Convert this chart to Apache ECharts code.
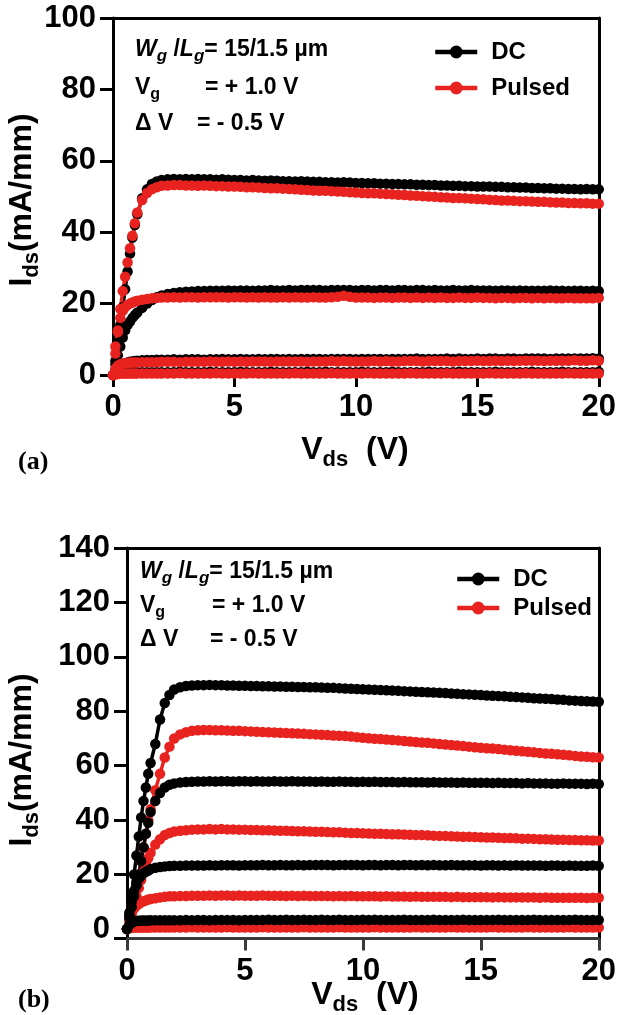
<!DOCTYPE html>
<html><head><meta charset="utf-8">
<script src="https://cdn.jsdelivr.net/npm/echarts@6/dist/echarts.min.js"></script>
<style>html,body{margin:0;padding:0;background:#fff}#c{width:619px;height:1015px}</style>
</head><body><div id="c"></div>
<script>
// ---------- data ----------
const VDS = [0,0.1,0.2,0.3,0.4,0.5,0.6,0.7,0.8,0.9,1,1.2,1.4,1.6,1.8,2,
2.25,2.5,2.75,3, 3.25,3.5,3.75,4, 4.25,4.5,4.75,5, 5.25,5.5,5.75,6,
6.25,6.5,6.75,7, 7.25,7.5,7.75,8, 8.25,8.5,8.75,9, 9.25,9.5,9.75,10,
10.25,10.5,10.75,11, 11.25,11.5,11.75,12, 12.25,12.5,12.75,13, 13.25,13.5,13.75,14,
14.25,14.5,14.75,15, 15.25,15.5,15.75,16, 16.25,16.5,16.75,17, 17.25,17.5,17.75,18,
18.25,18.5,18.75,19, 19.25,19.5,19.75,20];

const X_TICKS = [0,5,10,15,20];
const Y_TICKS_A = [0,20,40,60,80,100];
const Y_TICKS_B = [0,20,40,60,80,100,120,140];

// panel (a)
const a_dc1 = [0,4,9,14,19,24,29,34,38.5,42,45,49.5,52,53.5,54.2,54.6,
54.8,54.9,54.8,54.9, 54.8,54.9,54.8,54.8, 54.7,54.8,54.7,54.6, 54.6,54.5,54.6,54.5,
54.4,54.5,54.4,54.3, 54.3,54.2,54.3,54.2, 54.1,54.1,54.0,54.0, 53.9,54.0,53.9,53.8,
53.8,53.7,53.7,53.6, 53.6,53.5,53.5,53.4, 53.4,53.3,53.3,53.2, 53.2,53.1,53.1,53.0,
53.0,52.9,52.9,52.8, 52.8,52.8,52.7,52.7, 52.6,52.6,52.5,52.5, 52.4,52.4,52.3,52.3,
52.2,52.2,52.1,52.1, 52.0,52.1,52.0,52.0];
const a_pu1 = [0,6,12,18.5,23.5,27.5,31.5,35.5,39,42.5,45.5,49,51,52,52.6,53,
53.1,53.2,53.2,53.1, 53.1,53.0,53.1,53.0, 52.9,52.9,52.8,52.8, 52.7,52.6,52.6,52.5,
52.4,52.3,52.3,52.2, 52.1,52.0,51.9,51.8, 51.7,51.6,51.6,51.5, 51.4,51.3,51.2,51.1,
51.0,50.9,50.9,50.8, 50.7,50.6,50.5,50.4, 50.3,50.2,50.1,50.0, 49.9,49.8,49.7,49.6,
49.6,49.5,49.4,49.3, 49.2,49.1,49.0,48.9, 48.9,48.8,48.7,48.7, 48.6,48.5,48.5,48.4,
48.3,48.3,48.2,48.2, 48.1,48.1,48.0,48.0];
const a_dc2 = [0,3,5.5,8,10.5,12.5,14,15,16,16.8,17.5,18.8,20,21,21.8,22.3,
22.7,23.0,23.2,23.3, 23.4,23.5,23.5,23.6, 23.6,23.6,23.7,23.6, 23.7,23.7,23.6,23.7,
23.7,23.8,23.7,23.7, 23.8,23.7,23.8,23.8, 23.8,23.8,23.7,23.8, 23.8,23.8,23.8,23.7,
23.8,23.8,23.7,23.8, 23.8,23.7,23.8,23.8, 23.7,23.8,23.8,23.7, 23.8,23.7,23.7,23.8,
23.7,23.7,23.8,23.7, 23.7,23.7,23.6,23.7, 23.7,23.6,23.7,23.6, 23.6,23.6,23.6,23.7,
23.6,23.6,23.5,23.6, 23.6,23.5,23.6,23.5];
const a_pu2 = [0,8,12.5,16,18,19,19.6,20,20.3,20.6,20.8,21.1,21.3,21.5,21.6,21.7,
21.7,21.8,21.7,21.8, 21.8,21.7,21.8,21.8, 21.8,21.8,21.7,21.8, 21.8,21.7,21.8,21.7,
21.8,21.7,21.7,21.8, 21.7,21.8,21.7,21.7, 21.8,21.7,21.7,21.8, 21.9,22.2,21.9,21.7,
21.7,21.7,21.6,21.7, 21.7,21.6,21.7,21.7, 21.6,21.7,21.6,21.7, 21.6,21.7,21.6,21.6,
21.7,21.6,21.6,21.7, 21.6,21.6,21.5,21.6, 21.6,21.5,21.6,21.6, 21.5,21.6,21.5,21.6,
21.5,21.5,21.6,21.5, 21.5,21.5,21.5,21.6];
const a_dc3 = [0,1.2,2,2.6,3,3.3,3.5,3.7,3.8,3.9,4,4.1,4.2,4.2,4.3,4.3,
4.3,4.4,4.3,4.4, 4.4,4.4,4.3,4.4, 4.4,4.5,4.4,4.4, 4.5,4.4,4.4,4.5,
4.4,4.5,4.5,4.4, 4.5,4.4,4.5,4.5, 4.5,4.5,4.4,4.5, 4.5,4.5,4.5,4.4,
4.5,4.5,4.5,4.5, 4.4,4.5,4.5,4.5, 4.5,4.6,4.5,4.5, 4.5,4.5,4.6,4.5,
4.6,4.5,4.5,4.6, 4.5,4.6,4.6,4.5, 4.6,4.6,4.5,4.6, 4.6,4.6,4.6,4.5,
4.6,4.6,4.6,4.6, 4.6,4.6,4.7,4.6];
const a_pu3 = [0,1.8,2.6,3,3.2,3.3,3.4,3.4,3.5,3.5,3.5,3.6,3.6,3.6,3.6,3.7,
3.7,3.7,3.6,3.7, 3.7,3.7,3.7,3.8, 3.7,3.7,3.8,3.7, 3.8,3.7,3.8,3.8,
3.8,3.7,3.8,3.8, 3.8,3.8,3.8,3.7, 3.8,3.8,3.8,3.9, 3.8,3.9,3.8,3.8,
3.8,3.8,3.9,3.8, 3.9,3.8,3.8,3.9, 3.9,3.9,3.8,3.9, 3.9,3.9,3.9,3.8,
3.9,3.9,3.9,4.0, 3.9,3.9,4.0,3.9, 4.0,3.9,4.0,4.0, 4.0,4.0,3.9,4.0,
4.0,4.0,4.0,4.1, 4.0,4.0,4.1,4.0];
const a_dc4 = [0,0.4,0.6,0.7,0.7,0.8,0.8,0.8,0.8,0.8,0.8,0.8,0.8,0.8,0.8,0.8,
0.8,0.8,0.9,0.8, 0.8,0.8,0.8,0.9, 0.8,0.8,0.8,0.8, 0.9,0.8,0.8,0.8,
0.8,0.9,0.8,0.8, 0.8,0.8,0.8,0.9, 0.8,0.8,0.9,0.8, 0.8,0.8,0.8,0.8,
0.9,0.8,0.8,0.8, 0.8,0.9,0.8,0.8, 0.8,0.8,0.8,0.9, 0.8,0.8,0.8,0.8,
0.9,0.8,0.8,0.8, 0.8,0.8,0.9,0.8, 0.8,0.8,0.8,0.8, 0.9,0.8,0.8,0.8,
0.8,0.9,0.8,0.8, 0.8,0.8,0.8,0.9];
const a_pu4 = [0,0.2,0.3,0.4,0.4,0.4,0.4,0.4,0.4,0.4,0.4,0.4,0.4,0.4,0.4,0.4,
0.4,0.4,0.5,0.4, 0.4,0.4,0.4,0.4, 0.5,0.4,0.4,0.4, 0.4,0.4,0.5,0.4,
0.4,0.4,0.4,0.4, 0.4,0.5,0.4,0.4, 0.4,0.4,0.4,0.5, 0.4,0.4,0.4,0.4,
0.4,0.5,0.4,0.4, 0.4,0.4,0.4,0.4, 0.5,0.4,0.4,0.4, 0.4,0.4,0.5,0.4,
0.4,0.4,0.4,0.4, 0.4,0.5,0.4,0.4, 0.4,0.4,0.4,0.5, 0.4,0.4,0.4,0.4,
0.4,0.4,0.5,0.4, 0.4,0.4,0.4,0.4];

// panel (b)
const b_dc1 = [0,6,13,20,27,34,41,47,52,57,61,68,77,83,86,88,
88.8,89.3,89.5,89.6, 89.6,89.7,89.6,89.6, 89.5,89.5,89.4,89.4, 89.3,89.3,89.2,89.2,
89.1,89.1,89.0,89.0, 88.9,88.9,88.8,88.8, 88.7,88.6,88.6,88.5, 88.4,88.3,88.2,88.1,
88.0,87.9,87.8,87.7, 87.6,87.5,87.4,87.3, 87.2,87.1,87.0,86.9, 86.8,86.7,86.5,86.4,
86.3,86.2,86.1,86.0, 85.8,85.7,85.6,85.5, 85.3,85.2,85.1,85.0, 84.8,84.7,84.6,84.5,
84.3,84.2,84.0,83.9, 83.8,83.7,83.6,83.5];
const b_pu1 = [0,4,8,12,16,20,25,30,35,40,44,51,57,63,67,70,
71.5,72.3,72.8,73.0, 73.1,73.1,73.0,73.0, 72.9,72.8,72.8,72.7, 72.6,72.5,72.4,72.3,
72.2,72.1,72.0,71.9, 71.8,71.7,71.6,71.5, 71.4,71.3,71.1,71.0, 70.9,70.7,70.5,70.3,
70.1,69.9,69.8,69.6, 69.4,69.3,69.1,68.9, 68.7,68.5,68.4,68.2, 68.0,67.8,67.6,67.4,
67.2,67.0,66.8,66.6, 66.4,66.3,66.1,65.9, 65.7,65.5,65.3,65.1, 64.9,64.7,64.5,64.4,
64.2,64.0,63.8,63.6, 63.4,63.3,63.1,63.0];
const b_dc2 = [0,4,8,12,16,20,25,30,35,39,43,47,50,52,53,53.5,
53.8,54.0,54.1,54.2, 54.2,54.3,54.2,54.3, 54.3,54.2,54.3,54.3, 54.2,54.3,54.2,54.2,
54.3,54.2,54.2,54.3, 54.2,54.2,54.2,54.1, 54.2,54.1,54.1,54.2, 54.1,54.1,54.0,54.1,
54.0,54.1,54.0,54.0, 54.0,53.9,54.0,53.9, 53.9,53.9,53.8,53.9, 53.8,53.8,53.8,53.7,
53.8,53.7,53.7,53.7, 53.7,53.6,53.7,53.6, 53.6,53.6,53.5,53.6, 53.5,53.5,53.5,53.4,
53.4,53.5,53.4,53.4, 53.4,53.3,53.4,53.3];
const b_pu2 = [0,3,6,9,12,15,18,21,24,26,28,31,33,34.5,35.3,35.8,
36.1,36.3,36.5,36.6, 36.6,36.7,36.6,36.7, 36.6,36.6,36.5,36.5, 36.4,36.4,36.3,36.3,
36.2,36.1,36.1,36.0, 35.9,35.9,35.8,35.7, 35.7,35.6,35.5,35.5, 35.4,35.3,35.3,35.2,
35.1,35.0,35.0,34.9, 34.8,34.8,34.7,34.6, 34.5,34.5,34.4,34.3, 34.2,34.2,34.1,34.0,
33.9,33.9,33.8,33.7, 33.6,33.6,33.5,33.4, 33.4,33.3,33.2,33.2, 33.1,33.0,33.0,32.9,
32.8,32.8,32.7,32.7, 32.6,32.6,32.5,32.5];
const b_dc3 = [0,5,10,14,17,18.5,19.5,20.5,21,21.5,22,22.5,22.8,23,23.1,23.2,
23.2,23.3,23.3,23.3, 23.3,23.4,23.3,23.4, 23.4,23.4,23.3,23.4, 23.4,23.4,23.5,23.4,
23.4,23.5,23.4,23.4, 23.5,23.4,23.5,23.5, 23.5,23.5,23.4,23.5, 23.5,23.5,23.5,23.4,
23.5,23.5,23.4,23.5, 23.5,23.4,23.5,23.5, 23.4,23.5,23.4,23.5, 23.4,23.4,23.5,23.4,
23.4,23.4,23.4,23.3, 23.4,23.4,23.3,23.4, 23.3,23.4,23.3,23.3, 23.3,23.3,23.2,23.3,
23.3,23.2,23.3,23.2, 23.2,23.2,23.3,23.2];
const b_pu3 = [0,4,6,7.5,8.5,9.2,9.8,10.2,10.5,10.8,11,11.3,11.6,11.8,12,12,
12.1,12.1,12.2,12.2, 12.2,12.3,12.2,12.3, 12.3,12.2,12.3,12.2, 12.2,12.2,12.3,12.2,
12.2,12.2,12.1,12.2, 12.1,12.2,12.1,12.1, 12.1,12.1,12.0,12.1, 12.0,12.1,12.0,12.0,
12.0,12.0,11.9,12.0, 11.9,11.9,11.9,11.8, 11.9,11.8,11.8,11.8, 11.8,11.8,11.7,11.8,
11.7,11.7,11.7,11.7, 11.7,11.6,11.7,11.6, 11.6,11.6,11.6,11.6, 11.6,11.5,11.6,11.5,
11.5,11.5,11.5,11.5, 11.5,11.4,11.5,11.5];
const b_dc4 = [0,1.5,2.3,2.7,3,3,3.1,3.1,3.1,3.1,3.2,3.2,3.2,3.2,3.2,3.2,
3.2,3.3,3.2,3.3, 3.3,3.2,3.3,3.3, 3.3,3.3,3.2,3.3, 3.3,3.3,3.3,3.4,
3.3,3.3,3.4,3.3, 3.3,3.4,3.3,3.3, 3.4,3.3,3.3,3.4, 3.3,3.3,3.3,3.4,
3.3,3.4,3.3,3.3, 3.3,3.3,3.4,3.3, 3.3,3.3,3.3,3.4, 3.3,3.3,3.3,3.3,
3.4,3.3,3.3,3.3, 3.3,3.3,3.4,3.3, 3.3,3.3,3.3,3.3, 3.4,3.3,3.3,3.3,
3.3,3.3,3.3,3.4, 3.3,3.3,3.3,3.3];
const b_pu4 = [0,0.3,0.4,0.5,0.5,0.5,0.5,0.5,0.5,0.5,0.5,0.5,0.5,0.5,0.5,0.5,
0.5,0.5,0.6,0.5, 0.5,0.5,0.5,0.5, 0.6,0.5,0.5,0.5, 0.5,0.5,0.6,0.5,
0.5,0.5,0.5,0.5, 0.5,0.6,0.5,0.5, 0.5,0.5,0.5,0.6, 0.5,0.5,0.5,0.5,
0.5,0.6,0.5,0.5, 0.5,0.5,0.5,0.5, 0.6,0.5,0.5,0.5, 0.5,0.5,0.6,0.5,
0.5,0.5,0.5,0.5, 0.5,0.6,0.5,0.5, 0.5,0.5,0.5,0.6, 0.5,0.5,0.5,0.5,
0.5,0.5,0.6,0.5, 0.5,0.5,0.5,0.5];

// ---------- style ----------
const FONT = '"Liberation Sans", Arial, Helvetica, sans-serif';
const BLACK = '#000000';
const RED = '#e8231f';
const AX_W = 3;

function mk(name, ys, color, gi) {
  return {
    type: 'line', name: name, xAxisIndex: gi * 2, yAxisIndex: gi * 2,
    data: VDS.map((x, i) => [x, ys[i]]),
    symbol: 'circle', symbolSize: 10.5, showSymbol: true,
    lineStyle: { width: 3.5, color: color }, itemStyle: { color: color },
    silent: true, animation: false, z: 3
  };
}

function bottomX(gi, color) {
  return {
    type: 'value', gridIndex: gi, min: 0, max: 20, interval: 5, position: 'bottom',
    axisLine: { show: true, onZero: false, lineStyle: { color: color, width: AX_W } },
    axisTick: { show: true, length: 12, lineStyle: { color: color, width: AX_W } },
    axisLabel: { fontSize: 31, fontWeight: 'bold', fontFamily: FONT, color: '#000', margin: 17 },
    splitLine: { show: false }
  };
}
function topX(gi) {
  return {
    type: 'value', gridIndex: gi, min: 0, max: 20, position: 'top',
    axisLine: { show: true, onZero: false, lineStyle: { color: '#000', width: AX_W } },
    axisTick: { show: false }, axisLabel: { show: false }, splitLine: { show: false }
  };
}
function rightY(gi, min, max) {
  return {
    type: 'value', gridIndex: gi, min: min, max: max, position: 'right',
    axisLine: { show: true, onZero: false, lineStyle: { color: '#000', width: AX_W } },
    axisTick: { show: false }, axisLabel: { show: false }, splitLine: { show: false }
  };
}

const tickLabel = { fontSize: 31, fontWeight: 'bold', fontFamily: FONT, color: '#000', margin: 17 };

const richAxis = {
  m: { fontSize: 32, fontWeight: 'bold', fontFamily: FONT, fill: '#000', lineHeight: 42, verticalAlign: 'middle' },
  s: { fontSize: 22, fontWeight: 'bold', fontFamily: FONT, fill: '#000', lineHeight: 22, verticalAlign: 'bottom' }
};
const richNote = {
  wi: { fontSize: 23, fontWeight: 'bold', fontStyle: 'italic', fontFamily: FONT, fill: '#000', lineHeight: 30, verticalAlign: 'middle' },
  gi: { fontSize: 17, fontWeight: 'bold', fontStyle: 'italic', fontFamily: FONT, fill: '#000', lineHeight: 17, verticalAlign: 'bottom' },
  n: { fontSize: 23, fontWeight: 'bold', fontFamily: FONT, fill: '#000', lineHeight: 30, verticalAlign: 'middle' },
  gs: { fontSize: 16, fontWeight: 'bold', fontFamily: FONT, fill: '#000', lineHeight: 16, verticalAlign: 'bottom' }
};

function txt(x, y, text, rich, extra) {
  return Object.assign({
    type: 'text', x: x, y: y, silent: true,
    style: { text: text, rich: rich, align: 'left', verticalAlign: 'middle' }
  }, extra || {});
}

function notes(x0, y1, y2, y3, xe2, xe3) {
  return [
    txt(x0, y1, '{wi|W}{gi|g}{n| /}{wi|L}{gi|g}{n|= 15/1.5 µm}', richNote),
    txt(x0, y2, '{n|V}{gs|g}', richNote),
    txt(xe2, y2, '{n|= + 1.0 V}', richNote),
    txt(x0, y3, '{n|Δ V}', richNote),
    txt(xe3, y3, '{n|= - 0.5 V}', richNote)
  ];
}

function legendAt(left, top, gap) {
  return {
    data: ['DC', 'Pulsed'], left: left, top: top, orient: 'vertical',
    itemWidth: 42, itemHeight: 16, itemGap: gap, selectedMode: false,
    lineStyle: { width: 4.5 },
    textStyle: { fontSize: 24, fontWeight: 'bold', fontFamily: FONT, color: '#000', padding: [0, 0, 0, 9] }
  };
}

const option = {
  backgroundColor: '#ffffff',
  animation: false,
  grid: [
    { left: 113, top: 18, width: 489, height: 357 },
    { left: 127, top: 548, width: 475, height: 390.5 }
  ],
  xAxis: [ bottomX(0, '#000'), topX(0), bottomX(1, '#3a3a3a'), topX(1) ],
  yAxis: [
    { type: 'value', gridIndex: 0, min: 0, max: 100, interval: 20,
      axisLine: { show: true, onZero: false, lineStyle: { color: '#000', width: AX_W } },
      axisTick: { show: true, length: 13, lineStyle: { color: '#000', width: AX_W } },
      axisLabel: Object.assign({ customValues: Y_TICKS_A }, tickLabel), splitLine: { show: false } },
    rightY(0, 0, 100),
    { type: 'value', gridIndex: 1, min: -3.5, max: 140,
      axisLine: { show: true, onZero: false, lineStyle: { color: '#000', width: AX_W } },
      axisTick: { show: true, length: 13, customValues: [-3.5].concat(Y_TICKS_B.slice(1)), lineStyle: { color: '#000', width: AX_W } },
      axisLabel: Object.assign({ customValues: Y_TICKS_B }, tickLabel), splitLine: { show: false } },
    rightY(1, -3.5, 140)
  ],
  legend: [ legendAt(428, 35, 12), legendAt(450, 562, 5) ],
  series: [
    mk('DC', a_dc1, BLACK, 0), mk('DC', a_dc2, BLACK, 0), mk('DC', a_dc3, BLACK, 0), mk('DC', a_dc4, BLACK, 0),
    mk('Pulsed', a_pu1, RED, 0), mk('Pulsed', a_pu2, RED, 0), mk('Pulsed', a_pu3, RED, 0), mk('Pulsed', a_pu4, RED, 0),
    mk('Pulsed', b_pu1, RED, 1), mk('Pulsed', b_pu2, RED, 1), mk('Pulsed', b_pu3, RED, 1), mk('Pulsed', b_pu4, RED, 1),
    mk('DC', b_dc1, BLACK, 1), mk('DC', b_dc2, BLACK, 1), mk('DC', b_dc3, BLACK, 1), mk('DC', b_dc4, BLACK, 1)
  ],
  graphic: [
    txt(22, 200, '', richAxis, { rotation: Math.PI / 2, style: { text: '{m|I}{s|ds}{m|(mA/mm)}', rich: richAxis, align: 'center', verticalAlign: 'middle' } }),
    txt(355, 450, '', richAxis, { style: { text: '{m|V}{s|ds}{m|  (V)}', rich: richAxis, align: 'center', verticalAlign: 'middle' } }),
    { type: 'text', x: 18, y: 462, silent: true, style: { text: '(a)', font: 'bold 26px "Liberation Serif", "Times New Roman", serif', fill: '#000', verticalAlign: 'middle' } },
    txt(22, 760, '', richAxis, { rotation: Math.PI / 2, style: { text: '{m|I}{s|ds}{m|(mA/mm)}', rich: richAxis, align: 'center', verticalAlign: 'middle' } }),
    txt(365, 995, '', richAxis, { style: { text: '{m|V}{s|ds}{m|  (V)}', rich: richAxis, align: 'center', verticalAlign: 'middle' } }),
    { type: 'text', x: 18, y: 1000, silent: true, style: { text: '(b)', font: 'bold 26px "Liberation Serif", "Times New Roman", serif', fill: '#000', verticalAlign: 'middle' } }
  ].concat(notes(135, 50, 88, 124, 205, 197)).concat(notes(140, 572, 606, 640, 212, 210))
};

const chart = echarts.init(document.getElementById('c'), null, { renderer: 'canvas' });
chart.setOption(option);
</script>
</body></html>
